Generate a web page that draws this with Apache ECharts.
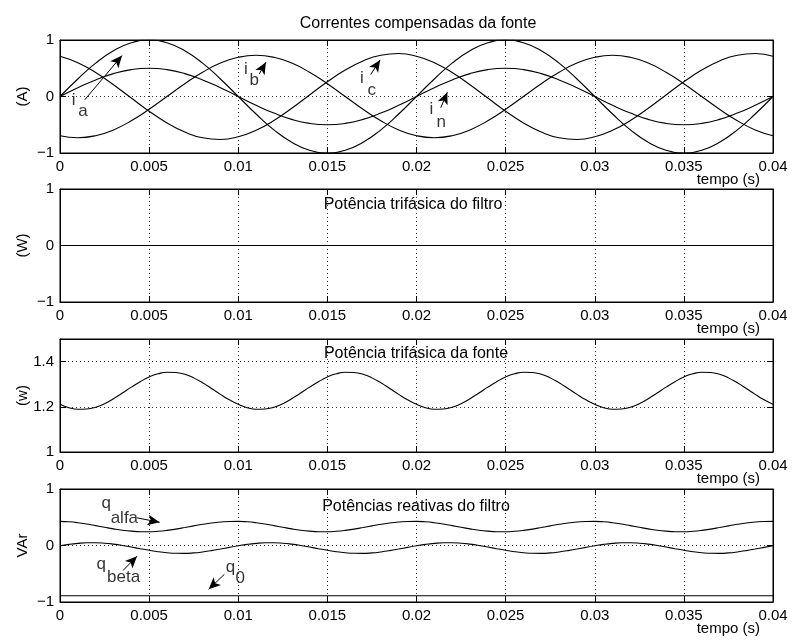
<!DOCTYPE html>
<html>
<head>
<meta charset="utf-8">
<script src="https://cdn.jsdelivr.net/npm/echarts@6/dist/echarts.min.js"></script>
<style>html,body{margin:0;padding:0;background:#fff}#c{width:792px;height:641px}</style>
</head>
<body>
<div id="c"></div>
<script>
// ---------- data ----------
// time bases (s)
var tCurr = [0,0.001,0.002,0.003,0.004,0.005,0.006,0.007,0.008,0.009,0.010,0.011,0.012,0.013,0.014,0.015,0.016,0.017,0.018,0.019,0.020,0.021,0.022,0.023,0.024,0.025,0.026,0.027,0.028,0.029,0.030,0.031,0.032,0.033,0.034,0.035,0.036,0.037,0.038,0.039,0.040];
var tPow = [0,0.0005,0.001,0.0015,0.002,0.0025,0.003,0.0035,0.004,0.0045,0.005,0.0055,0.006,0.0065,0.007,0.0075,0.008,0.0085,0.009,0.0095,0.010,0.0105,0.011,0.0115,0.012,0.0125,0.013,0.0135,0.014,0.0145,0.015,0.0155,0.016,0.0165,0.017,0.0175,0.018,0.0185,0.019,0.0195,0.020,0.0205,0.021,0.0215,0.022,0.0225,0.023,0.0235,0.024,0.0245,0.025,0.0255,0.026,0.0265,0.027,0.0275,0.028,0.0285,0.029,0.0295,0.030,0.0305,0.031,0.0315,0.032,0.0325,0.033,0.0335,0.034,0.0345,0.035,0.0355,0.036,0.0365,0.037,0.0375,0.038,0.0385,0.039,0.0395,0.040];
var tEnds = [0, 0.04];

// subplot 1: compensated source currents (A)
var ia = [0,0.31,0.59,0.81,0.95,1,0.95,0.81,0.59,0.31,0,-0.31,-0.59,-0.81,-0.95,-1,-0.95,-0.81,-0.59,-0.31,
          0,0.31,0.59,0.81,0.95,1,0.95,0.81,0.59,0.31,0,-0.31,-0.59,-0.81,-0.95,-1,-0.95,-0.81,-0.59,-0.31,0];
var ib = [-0.694,-0.73,-0.694,-0.591,-0.429,-0.226,0,0.226,0.429,0.591,0.694,0.73,0.694,0.591,0.429,0.226,0,-0.226,-0.429,-0.591,
          -0.694,-0.73,-0.694,-0.591,-0.429,-0.226,0,0.226,0.429,0.591,0.694,0.73,0.694,0.591,0.429,0.226,0,-0.226,-0.429,-0.591,-0.694];
var ic = [0.714,0.599,0.425,0.209,-0.027,-0.26,-0.468,-0.63,-0.731,-0.76,-0.714,-0.599,-0.425,-0.209,0.027,0.26,0.468,0.63,0.731,0.76,
          0.714,0.599,0.425,0.209,-0.027,-0.26,-0.468,-0.63,-0.731,-0.76,-0.714,-0.599,-0.425,-0.209,0.027,0.26,0.468,0.63,0.731,0.76,0.714];
var inn = [0,0.155,0.294,0.405,0.476,0.5,0.476,0.405,0.294,0.155,0,-0.155,-0.294,-0.405,-0.476,-0.5,-0.476,-0.405,-0.294,-0.155,
           0,0.155,0.294,0.405,0.476,0.5,0.476,0.405,0.294,0.155,0,-0.155,-0.294,-0.405,-0.476,-0.5,-0.476,-0.405,-0.294,-0.155,0];

// subplot 2: filter three-phase power (W)
var pFiltro = [0, 0];

// subplot 3: source three-phase power
var pFonte = [1.211,1.196,1.189,1.190,1.198,1.214,1.236,1.261,1.287,1.311,1.332,1.346,1.353,1.352,1.344,1.328,1.306,1.281,1.255,1.231,
              1.211,1.196,1.189,1.190,1.198,1.214,1.236,1.261,1.287,1.311,1.332,1.346,1.353,1.352,1.344,1.328,1.306,1.281,1.255,1.231,
              1.211,1.196,1.189,1.190,1.198,1.214,1.236,1.261,1.287,1.311,1.332,1.346,1.353,1.352,1.344,1.328,1.306,1.281,1.255,1.231,
              1.211,1.196,1.189,1.190,1.198,1.214,1.236,1.261,1.287,1.311,1.332,1.346,1.353,1.352,1.344,1.328,1.306,1.281,1.255,1.231,1.211];

// subplot 4: filter reactive powers (VAr)
var qAlfa = [0.427,0.419,0.403,0.380,0.352,0.323,0.295,0.271,0.254,0.244,0.243,0.251,0.267,0.290,0.318,0.347,0.375,0.399,0.416,0.426,
             0.427,0.419,0.403,0.380,0.352,0.323,0.295,0.271,0.254,0.244,0.243,0.251,0.267,0.290,0.318,0.347,0.375,0.399,0.416,0.426,
             0.427,0.419,0.403,0.380,0.352,0.323,0.295,0.271,0.254,0.244,0.243,0.251,0.267,0.290,0.318,0.347,0.375,0.399,0.416,0.426,
             0.427,0.419,0.403,0.380,0.352,0.323,0.295,0.271,0.254,0.244,0.243,0.251,0.267,0.290,0.318,0.347,0.375,0.399,0.416,0.426,0.427];
var qBeta = [-0.005,0.020,0.038,0.048,0.049,0.041,0.024,0.001,-0.027,-0.057,-0.085,-0.110,-0.128,-0.138,-0.139,-0.131,-0.114,-0.091,-0.063,-0.033,
             -0.005,0.020,0.038,0.048,0.049,0.041,0.024,0.001,-0.027,-0.057,-0.085,-0.110,-0.128,-0.138,-0.139,-0.131,-0.114,-0.091,-0.063,-0.033,
             -0.005,0.020,0.038,0.048,0.049,0.041,0.024,0.001,-0.027,-0.057,-0.085,-0.110,-0.128,-0.138,-0.139,-0.131,-0.114,-0.091,-0.063,-0.033,
             -0.005,0.020,0.038,0.048,0.049,0.041,0.024,0.001,-0.027,-0.057,-0.085,-0.110,-0.128,-0.138,-0.139,-0.131,-0.114,-0.091,-0.063,-0.033,-0.005];
var q0 = [-0.89, -0.89];

// axis settings / texts
var titles = ['Correntes compensadas da fonte', 'Potência trifásica do filtro', 'Potência trifásica da fonte', 'Potências reativas do filtro'];
var yNames = ['(A)', '(W)', '(w)', 'VAr'];
var yMins = [-1, -1, 1, -1];
var yMaxs = [1, 1, 1.5, 1];
var yIntervals = [1, 1, 0.2, 1];
var xName = 'tempo (s)';

// annotation labels [t, value, text] and arrows [t0, v0, t1, v1]
var labels1 = [[0.00076,-0.07,'i'],[0.00129,-0.27,'a'],[0.01043,0.49,'i'],[0.0109,0.283,'b'],
               [0.01693,0.33,'i'],[0.01749,0.106,'c'],[0.02083,-0.23,'i'],[0.02139,-0.465,'n']];
var arrows1 = [[0.00139,-0.058,0.00348,0.724],[0.01118,0.40,0.01155,0.606],[0.01743,0.389,0.01796,0.648],[0.02136,-0.2,0.02173,0.076]];
var labels4 = [[0.00259,0.753,'q'],[0.00361,0.489,'alfa'],[0.00231,-0.335,'q'],[0.00357,-0.57,'beta'],
               [0.00957,-0.394,'q'],[0.01011,-0.582,'0']];
var arrows4 = [[0.00432,0.489,0.00559,0.411],[0.00354,-0.441,0.00432,-0.189],[0.00922,-0.511,0.00834,-0.776]];

// ---------- chart ----------
var FONT = '"Liberation Sans", Arial, Helvetica, sans-serif';
var gridTops = [40, 189, 339, 489];
var gridH = 113;
var left = 60, width = 713;

function zip(t, v) { return t.map(function (x, i) { return [x, v[i]]; }); }
function minusFmt(v) { return v < 0 ? '\u2212' + String(-v) : String(v); }

var grids = [], xAxes = [], yAxes = [], series = [], titleArr = [];
for (var g = 0; g < 4; g++) {
  grids.push({ left: left, top: gridTops[g], width: width, height: gridH, show: true, borderColor: '#000', borderWidth: 1, backgroundColor: 'transparent' });
  xAxes.push({
    type: 'value', gridIndex: g, min: 0, max: 0.04, interval: 0.005, position: 'bottom',
    name: xName, nameLocation: 'end', nameGap: -13, nameMoveOverlap: false,
    nameTextStyle: { fontFamily: FONT, fontSize: 15, color: '#000', align: 'right', verticalAlign: 'top', padding: [19, 0, 0, 0] },
    axisLine: { show: true, onZero: false, lineStyle: { color: '#000', width: 1 } },
    axisTick: { show: true, inside: true, length: 6, lineStyle: { color: '#000' } },
    axisLabel: { fontFamily: FONT, fontSize: 15, color: '#000', margin: 6, showMinLabel: true, showMaxLabel: true },
    splitLine: { show: true, lineStyle: { color: '#333', width: 1, type: [1, 3] } }
  });
  xAxes.push({
    type: 'value', gridIndex: g, min: 0, max: 0.04, interval: 0.005, position: 'top',
    axisLine: { show: true, onZero: false, lineStyle: { color: '#000' } },
    axisTick: { show: true, inside: true, length: 6, lineStyle: { color: '#000' } },
    axisLabel: { show: false }, splitLine: { show: false }
  });
  yAxes.push({
    type: 'value', gridIndex: g, min: yMins[g], max: yMaxs[g], interval: yIntervals[g], position: 'left',
    name: yNames[g], nameLocation: 'middle', nameGap: 30, nameRotate: 90, nameMoveOverlap: false,
    nameTextStyle: { fontFamily: FONT, fontSize: 15, color: '#000' },
    axisLine: { show: true, onZero: false, lineStyle: { color: '#000' } },
    axisTick: { show: true, inside: true, length: 6, lineStyle: { color: '#000' } },
    axisLabel: { fontFamily: FONT, fontSize: 15, color: '#000', margin: 6, formatter: minusFmt, showMaxLabel: g !== 2 },
    splitLine: { show: true, lineStyle: { color: '#333', width: 1, type: [1, 3] } }
  });
  yAxes.push({
    type: 'value', gridIndex: g, min: yMins[g], max: yMaxs[g], interval: yIntervals[g], position: 'right',
    axisLine: { show: true, onZero: false, lineStyle: { color: '#000' } },
    axisTick: { show: true, inside: true, length: 6, lineStyle: { color: '#000' } },
    axisLabel: { show: false }, splitLine: { show: false }
  });
}

var titleStyle = { fontFamily: FONT, fontSize: 16, fontWeight: 'normal', color: '#000' };
titleArr.push({ text: titles[0], left: 418, top: 16, textAlign: 'center', padding: 0, textStyle: titleStyle });
titleArr.push({ text: titles[1], left: 413, top: 197, textAlign: 'center', padding: 0, textStyle: titleStyle });
titleArr.push({ text: titles[2], left: 416, top: 346, textAlign: 'center', padding: 0, textStyle: titleStyle });
titleArr.push({ text: titles[3], left: 416, top: 499, textAlign: 'center', padding: 0, textStyle: titleStyle });

var lineStyle = { color: '#000', width: 1.1 };
function lineSeries(name, gi, data, smooth, arrows) {
  var s = {
    name: name, type: 'line', xAxisIndex: gi * 2, yAxisIndex: gi * 2, data: data,
    showSymbol: false, symbol: 'none', smooth: smooth, lineStyle: lineStyle, itemStyle: { color: '#000' },
    silent: true, animation: false, z: 3
  };
  if (arrows) {
    s.markLine = {
      silent: true, animation: false, symbol: ['none', 'arrow'], symbolSize: [8, 12],
      label: { show: false }, lineStyle: { color: '#000', width: 1, type: 'solid' },
      emphasis: { disabled: true },
      data: arrows.map(function (a) { return [{ coord: [a[0], a[1]] }, { coord: [a[2], a[3]] }]; })
    };
  }
  return s;
}
function labelSeries(gi, labs) {
  return {
    type: 'scatter', xAxisIndex: gi * 2, yAxisIndex: gi * 2, symbolSize: 0, silent: true, animation: false, z: 5,
    data: labs.map(function (l) { return { value: [l[0], l[1]], name: l[2] }; }),
    label: { show: true, position: 'inside', formatter: '{b}', fontFamily: FONT, fontSize: 17, color: '#000' },
    labelLayout: { hideOverlap: false }
  };
}

series.push(lineSeries('ia', 0, zip(tCurr, ia), true, arrows1));
series.push(lineSeries('ib', 0, zip(tCurr, ib), true));
series.push(lineSeries('ic', 0, zip(tCurr, ic), true));
series.push(lineSeries('in', 0, zip(tCurr, inn), true));
series.push(labelSeries(0, labels1));
series.push(lineSeries('pFiltro', 1, zip(tEnds, pFiltro), false));
series.push(lineSeries('pFonte', 2, zip(tPow, pFonte), true));
series.push(lineSeries('qAlfa', 3, zip(tPow, qAlfa), true, arrows4));
series.push(lineSeries('qBeta', 3, zip(tPow, qBeta), true));
series.push(lineSeries('q0', 3, zip(tEnds, q0), false));
series.push(labelSeries(3, labels4));

var chart = echarts.init(document.getElementById('c'), null, { renderer: 'canvas' });
chart.setOption({
  animation: false,
  backgroundColor: '#fff',
  textStyle: { fontFamily: FONT },
  title: titleArr,
  grid: grids,
  xAxis: xAxes,
  yAxis: yAxes,
  series: series
});
</script>
</body>
</html>
